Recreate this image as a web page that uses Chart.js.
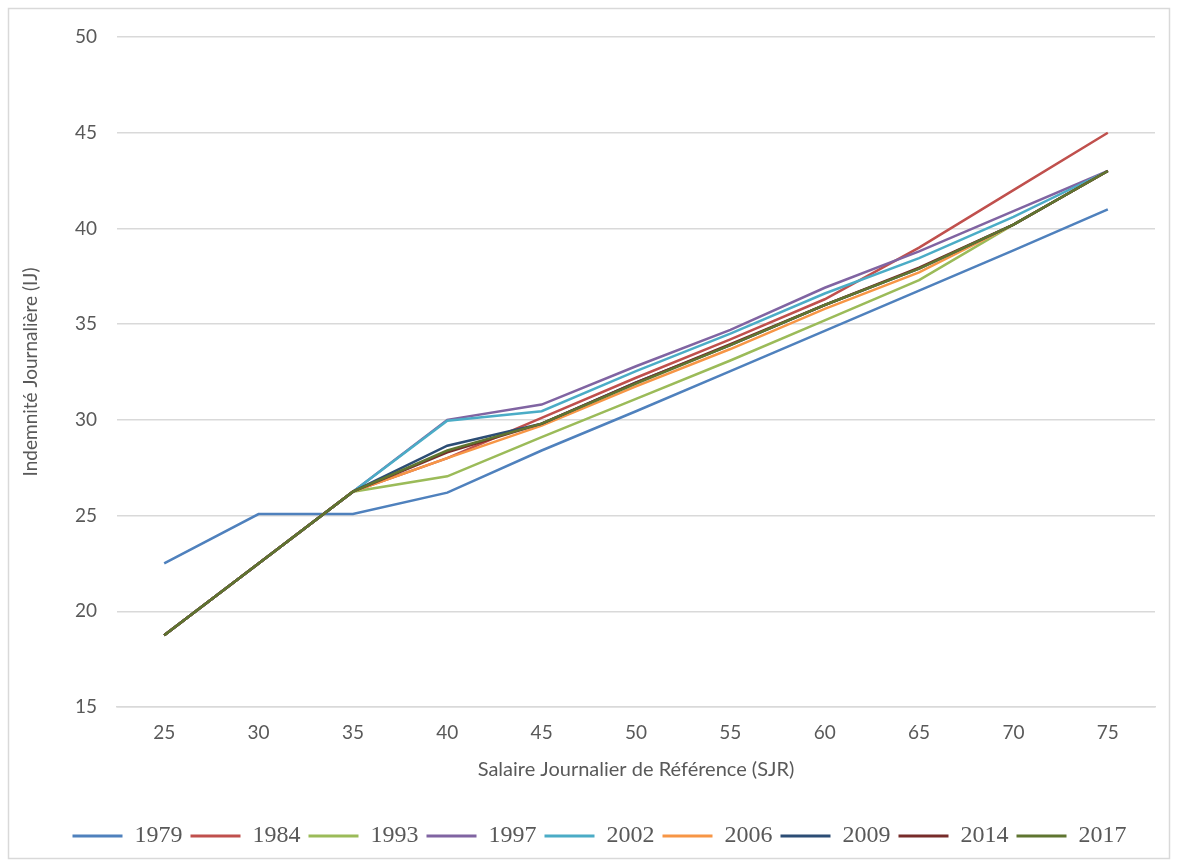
<!DOCTYPE html>
<html>
<head>
<meta charset="utf-8">
<script src="https://cdn.jsdelivr.net/npm/chart.js@4"></script>
<style>
  html, body { margin: 0; padding: 0; background: #ffffff; }
  #wrap { width: 1178px; height: 865px; }
</style>
</head>
<body>
<div id="wrap"><canvas id="c" width="1178" height="865"></canvas></div>
<script>
// Salaire Journalier de Référence (categories on the x axis)
const sjr = ['25', '30', '35', '40', '45', '50', '55', '60', '65', '70', '75'];

// Indemnité Journalière by regulation year
const ij1979 = [22.5, 25.08, 25.08, 26.2, 28.4, 30.45, 32.55, 34.65, 36.75, 38.85, 41.0];
const ij1984 = [18.75, 22.5, 26.25, 28.0, 30.1, 32.2, 34.2, 36.3, 39.0, 42.0, 45.0];
const ij1993 = [18.75, 22.5, 26.25, 27.05, 29.1, 31.1, 33.1, 35.2, 37.3, 40.2, 43.0];
const ij1997 = [18.75, 22.5, 26.25, 30.0, 30.8, 32.8, 34.7, 36.9, 38.8, 40.9, 43.0];
const ij2002 = [18.75, 22.5, 26.25, 29.95, 30.45, 32.55, 34.5, 36.6, 38.45, 40.6, 43.0];
const ij2006 = [18.75, 22.5, 26.25, 28.0, 29.7, 31.75, 33.7, 35.8, 37.7, 40.2, 43.0];
const ij2009 = [18.75, 22.5, 26.25, 28.65, 29.8, 31.95, 33.9, 36.0, 37.9, 40.2, 43.0];
const ij2014 = [18.75, 22.5, 26.25, 28.3, 29.8, 31.95, 33.95, 36.0, 37.95, 40.2, 43.0];
const ij2017 = [18.75, 22.5, 26.25, 28.4, 29.8, 31.9, 33.9, 36.0, 37.9, 40.2, 43.0];

const years = ['1979', '1984', '1993', '1997', '2002', '2006', '2009', '2014', '2017'];
const series = [ij1979, ij1984, ij1993, ij1997, ij2002, ij2006, ij2009, ij2014, ij2017];
const colors = ['#4F81BD', '#C0504D', '#9BBB59', '#8064A2', '#4BACC6', '#F79646', '#2C4D75', '#772C2A', '#5F7530'];

// y axis ticks
const yMin = 15, yMax = 50, yStep = 5;

const textGrey = '#595959';
const gridGrey = '#D9D9D9';

const datasets = series.map((vals, i) => ({
  label: years[i],
  data: vals,
  borderColor: colors[i],
  backgroundColor: colors[i],
  borderWidth: 2.5,
  pointRadius: 0,
  pointHoverRadius: 0,
  tension: 0,
  fill: false,
  order: series.length - i   // later years drawn on top
}));

// light frame around the whole chart, and a small nudge of the legend row
const framePlugin = {
  id: 'frame',
  beforeDraw(chart) {
    const ctx = chart.ctx;
    ctx.save();
    ctx.fillStyle = '#ffffff';
    ctx.fillRect(0, 0, chart.width, chart.height);
    ctx.strokeStyle = gridGrey;
    ctx.lineWidth = 1.5;
    ctx.strokeRect(8.5, 8.5, 1161, 850);
    ctx.restore();
    if (chart.legend && !chart.legend._nudged) {
      chart.legend.left += 18;
      chart.legend.right += 18;
      chart.legend._nudged = true;
    }
  }
};

const axisFont = { family: 'Lato, sans-serif', size: 19 };

new Chart(document.getElementById('c'), {
  type: 'line',
  data: { labels: sjr, datasets },
  plugins: [framePlugin],
  options: {
    responsive: false,
    animation: false,
    devicePixelRatio: 1,
    layout: { padding: { left: 8, right: 23, top: 37, bottom: 7 } },
    plugins: {
      tooltip: { enabled: false },
      legend: {
        position: 'bottom',
        labels: {
          color: textGrey,
          font: { family: '"Liberation Serif", serif', size: 24 },
          boxWidth: 50,
          boxHeight: 3,
          padding: 8,
          sort: (a, b) => a.datasetIndex - b.datasetIndex,
          generateLabels(chart) {
            const items = Chart.defaults.plugins.legend.labels.generateLabels(chart);
            items.forEach(it => { it.lineWidth = 0; it.strokeStyle = 'rgba(0,0,0,0)'; });
            return items;
          }
        }
      }
    },
    scales: {
      x: {
        type: 'category',
        offset: true,
        grid: { display: false, drawTicks: false },
        border: { display: true, color: gridGrey, width: 1.5 },
        ticks: {
          color: textGrey,
          font: axisFont,
          padding: 14,
          maxRotation: 0
        },
        title: {
          display: true,
          text: 'Salaire Journalier de Référence (SJR)',
          color: textGrey,
          font: { family: 'Lato, sans-serif', size: 20 },
          padding: { top: 0, bottom: 34 }
        },
        afterFit(scale) { scale.height = 109; }
      },
      y: {
        min: yMin,
        max: yMax,
        ticks: {
          stepSize: yStep,
          color: textGrey,
          font: axisFont,
          padding: 20
        },
        grid: { color: gridGrey, lineWidth: 1.5, drawTicks: false },
        border: { display: false },
        title: {
          display: true,
          text: 'Indemnité Journalière (IJ)',
          color: textGrey,
          font: { family: 'Lato, sans-serif', size: 19 },
          padding: { top: 11, bottom: 0 }
        },
        afterFit(scale) { scale.width = 109; }
      }
    }
  }
});
</script>
</body>
</html>
